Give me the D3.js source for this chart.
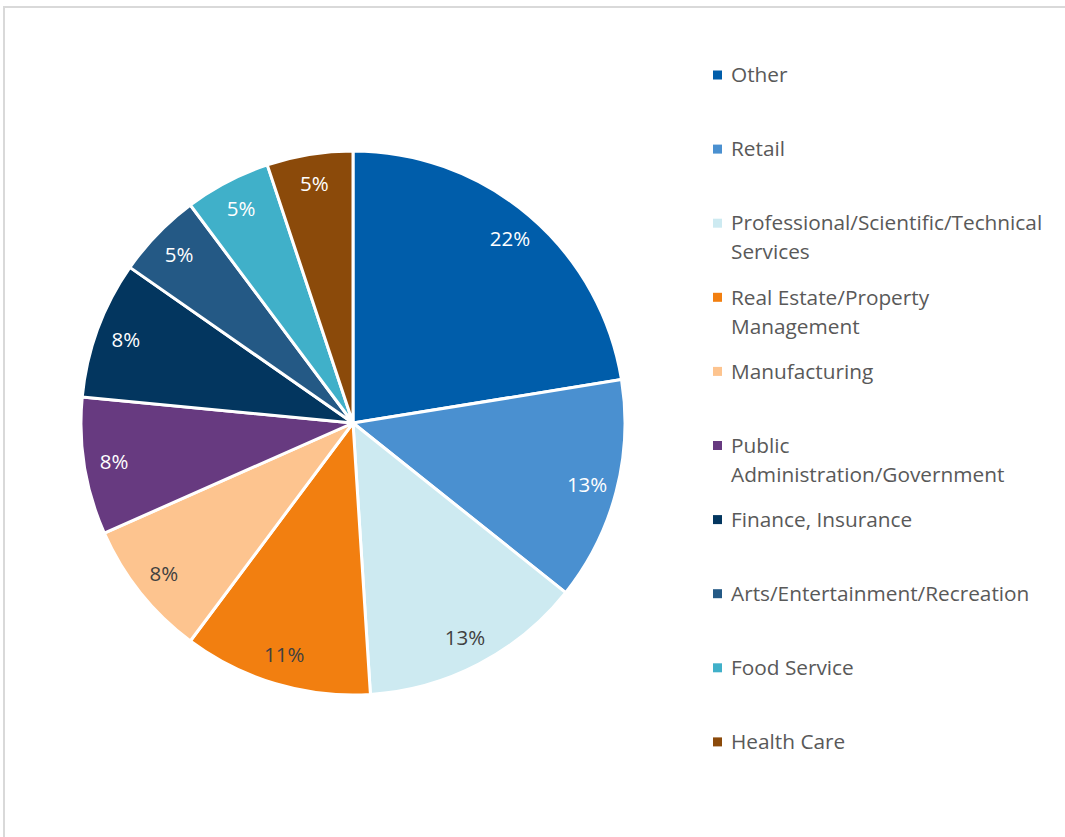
<!DOCTYPE html>
<html>
<head>
<meta charset="utf-8">
<script src="https://cdn.jsdelivr.net/npm/d3@7"></script>
<style>
  body { margin: 0; background: #fff; }
  text { font-family: "Open Sans", Lato, sans-serif; }
</style>
</head>
<body>
<div id="vis"></div>
<script>
const FRAME_WIDTH = 1065;
const FRAME_HEIGHT = 837;
const CENTER = {x: 353, y: 423};
const RADIUS = 272;

// data
const categories = ["Other", "Retail", "Professional/Scientific/Technical Services",
  "Real Estate/Property Management", "Manufacturing", "Public Administration/Government",
  "Finance, Insurance", "Arts/Entertainment/Recreation", "Food Service", "Health Care"];
const values = [22, 13, 13, 11, 8, 8, 8, 5, 5, 5];
// legend lines (wrapped like the original)
const legendLines = [["Other"], ["Retail"], ["Professional/Scientific/Technical", "Services"],
  ["Real Estate/Property", "Management"], ["Manufacturing"], ["Public", "Administration/Government"],
  ["Finance, Insurance"], ["Arts/Entertainment/Recreation"], ["Food Service"], ["Health Care"]];
const colors = ["#005DAA", "#4A90D0", "#CDEAF1", "#F27F10", "#FDC48F",
  "#673A80", "#03365F", "#245985", "#40B0C9", "#8B4A0A"];
const darkLabel = [false, false, true, true, true, false, false, false, false, false];

const svg = d3.select("#vis")
  .append("svg")
    .attr("width", FRAME_WIDTH)
    .attr("height", FRAME_HEIGHT);

// chart border
svg.append("rect")
  .attr("x", 4).attr("y", 7)
  .attr("width", FRAME_WIDTH + 20).attr("height", FRAME_HEIGHT + 20)
  .attr("fill", "none")
  .attr("stroke", "#d9d9d9")
  .attr("stroke-width", 2);

const data = categories.map((c, i) => ({name: c, value: values[i], color: colors[i], dark: darkLabel[i]}));

const pie = d3.pie().sort(null).value(d => d.value);
const arc = d3.arc().innerRadius(0).outerRadius(RADIUS);
const labelArc = d3.arc().innerRadius(242).outerRadius(242);

const g = svg.append("g")
  .attr("transform", "translate(" + CENTER.x + "," + CENTER.y + ")");

g.selectAll("path")
  .data(pie(data))
  .enter()
  .append("path")
    .attr("d", arc)
    .attr("fill", d => d.data.color)
    .attr("stroke", "#fff")
    .attr("stroke-width", 3)
    .attr("stroke-linejoin", "round");

g.selectAll(".lbl")
  .data(pie(data))
  .enter()
  .append("text")
    .attr("class", "lbl")
    .attr("transform", d => "translate(" + labelArc.centroid(d) + ")")
    .attr("text-anchor", "middle")
    .attr("dy", "0.35em")
    .attr("font-size", 20.5)
    .attr("fill", d => d.data.dark ? "#404040" : "#fff")
    .text(d => d.data.value + "%");

// legend
const legend = svg.append("g");
const rows = legend.selectAll("g")
  .data(data)
  .enter()
  .append("g")
    .attr("transform", (d, i) => "translate(713," + (75 + i * 74.1) + ")");

rows.append("rect")
  .attr("x", 0).attr("y", -4.5)
  .attr("width", 9).attr("height", 9)
  .attr("fill", d => d.color);

rows.each(function(d, i) {
  d3.select(this).selectAll("text")
    .data(legendLines[i])
    .enter()
    .append("text")
      .attr("x", 18)
      .attr("y", (t, j) => j * 29)
      .attr("dy", "0.35em")
      .attr("font-size", 20.8)
      .attr("fill", "#595959")
      .text(t => t);
});
</script>
</body>
</html>
